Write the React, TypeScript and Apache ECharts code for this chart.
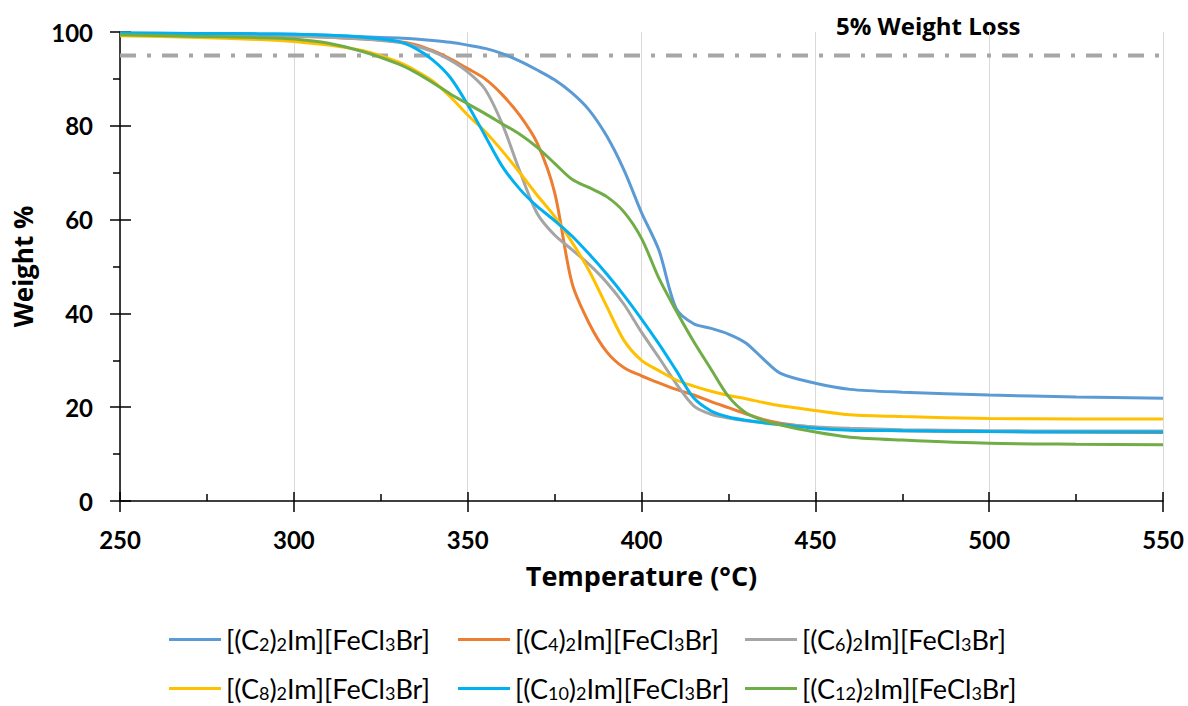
import React, { useEffect, useRef } from 'react';
import * as echarts from 'echarts';

const temperatures = [250, 270, 290, 300, 310, 320, 330, 335, 340, 345, 350, 355, 360, 365, 370, 375, 380, 385, 390, 395, 400, 405, 410, 415, 420, 425, 430, 435, 440, 450, 460, 475, 500, 525, 550];

const weightC2 = [99.8, 99.7, 99.6, 99.5, 99.3, 99.0, 98.7, 98.5, 98.2, 97.8, 97.2, 96.5, 95.4, 93.8, 91.9, 89.8, 87.0, 83.3, 77.8, 70.5, 61.5, 53.5, 41.0, 37.8, 36.8, 35.6, 33.7, 30.3, 27.2, 25.1, 23.8, 23.2, 22.6, 22.2, 21.9];
const weightC4 = [99.5, 99.4, 99.2, 99.1, 98.9, 98.5, 98.0, 97.3, 96.0, 94.3, 92.2, 90.0, 86.6, 82.2, 76.3, 65.8, 46.5, 37.8, 31.8, 28.4, 26.7, 25.2, 23.8, 22.6, 21.2, 19.9, 18.6, 17.4, 16.6, 15.7, 15.3, 15.0, 14.8, 14.7, 14.6];
const weightC6 = [99.5, 99.4, 99.2, 99.1, 98.9, 98.5, 97.8, 97.0, 95.8, 94.0, 91.5, 87.8, 80.3, 70.3, 61.3, 56.7, 53.6, 50.4, 46.6, 41.9, 36.0, 30.6, 25.0, 20.3, 18.5, 17.7, 17.1, 16.7, 16.3, 15.8, 15.5, 15.2, 15.0, 14.9, 14.9];
const weightC8 = [99.2, 98.9, 98.4, 98.0, 97.2, 96.0, 93.6, 91.8, 89.5, 86.2, 82.3, 78.8, 74.6, 70.0, 65.2, 60.7, 55.2, 49.0, 41.5, 34.2, 30.0, 27.8, 25.8, 24.5, 23.4, 22.5, 21.8, 21.0, 20.3, 19.3, 18.4, 18.0, 17.6, 17.5, 17.5];
const weightC10 = [99.8, 99.7, 99.6, 99.5, 99.3, 98.9, 98.0, 96.5, 94.0, 90.3, 84.5, 77.9, 71.3, 66.5, 62.8, 59.8, 56.5, 52.6, 48.4, 43.8, 38.8, 33.5, 27.8, 22.0, 19.2, 17.9, 17.2, 16.7, 16.3, 15.5, 15.1, 15.0, 14.8, 14.7, 14.7];
const weightC12 = [99.4, 99.1, 98.8, 98.5, 97.6, 95.8, 93.2, 91.4, 89.2, 86.8, 84.7, 82.6, 80.4, 78.2, 75.4, 72.0, 68.6, 66.8, 64.9, 61.6, 56.0, 47.5, 40.5, 34.0, 28.1, 22.3, 18.8, 17.2, 16.2, 14.7, 13.6, 13.0, 12.3, 12.1, 12.0];

const seriesNames = [
  '[(C2)2Im][FeCl3Br]',
  '[(C4)2Im][FeCl3Br]',
  '[(C6)2Im][FeCl3Br]',
  '[(C8)2Im][FeCl3Br]',
  '[(C10)2Im][FeCl3Br]',
  '[(C12)2Im][FeCl3Br]',
];
const seriesWeights = [weightC2, weightC4, weightC6, weightC8, weightC10, weightC12];
const seriesColors = ['#5B9BD5', '#ED7D31', '#A5A5A5', '#FFC000', '#00B0F0', '#70AD47'];

const thresholdTemps = [250, 550];
const thresholdWeight = 95;
const thresholdLabel = '5% Weight Loss';

const xTitle = 'Temperature (°C)';
const yTitle = 'Weight %';

const FONT = 'Lato';
const TITLE_FONT = 'Open Sans';

const legendPos = [
  { left: 169, top: 626 },
  { left: 458, top: 626 },
  { left: 745, top: 626 },
  { left: 169, top: 675 },
  { left: 458, top: 675 },
  { left: 745, top: 675 },
];

function richName(name: string): string {
  const parts = name.split(/(\d+)/).filter((p) => p.length > 0);
  return parts.map((p) => (/^\d+$/.test(p) ? `{s|${p}}` : `{n|${p}}`)).join('');
}

export default function App() {
  const ref = useRef<HTMLDivElement>(null);

  useEffect(() => {
    if (!ref.current) return;
    const chart = echarts.init(ref.current, null, { renderer: 'svg' });
    const axisColor = '#000000';
    const tickStyle = { color: axisColor, width: 1.5 };

    const lineSeries = seriesNames.map((name, i) => ({
      name,
      type: 'line',
      data: temperatures.map((t, j) => [t, seriesWeights[i][j]]),
      smooth: 0.3,
      symbol: 'none',
      lineStyle: { color: seriesColors[i], width: 3 },
      itemStyle: { color: seriesColors[i] },
      xAxisIndex: 0,
      yAxisIndex: 0,
    }));

    const option: any = {
      animation: false,
      backgroundColor: '#ffffff',
      grid: { left: 120, top: 32, width: 1043, height: 469, containLabel: false },
      xAxis: [
        {
          type: 'value',
          min: 250,
          max: 550,
          interval: 50,
          position: 'bottom',
          axisLine: { show: true, onZero: false, lineStyle: tickStyle },
          axisTick: { show: true, length: 11, lineStyle: tickStyle },
          splitLine: { show: true, lineStyle: { color: '#D9D9D9', width: 1 } },
          axisLabel: { fontFamily: FONT, fontWeight: 'bold', fontSize: 24, color: '#000', margin: 26 },
          name: xTitle,
          nameLocation: 'middle',
          nameGap: 61,
          nameTextStyle: { fontFamily: TITLE_FONT, fontWeight: 'bold', fontSize: 27, color: '#000' },
        },
        {
          type: 'value',
          min: 250,
          max: 550,
          interval: 50,
          position: 'bottom',
          axisLine: { show: false, onZero: false },
          axisTick: { show: true, inside: true, length: 9, lineStyle: tickStyle },
          minorTick: { show: true, splitNumber: 2, length: 7, lineStyle: tickStyle },
          splitLine: { show: false },
          axisLabel: { show: false },
        },
      ],
      yAxis: [
        {
          type: 'value',
          min: 0,
          max: 100,
          interval: 20,
          position: 'left',
          axisLine: { show: true, onZero: false, lineStyle: tickStyle },
          axisTick: { show: true, length: 10, lineStyle: tickStyle },
          minorTick: { show: true, splitNumber: 2, length: 7, lineStyle: tickStyle },
          splitLine: { show: false },
          axisLabel: { fontFamily: FONT, fontWeight: 'bold', fontSize: 24, color: '#000', margin: 27 },
          name: yTitle,
          nameLocation: 'middle',
          nameGap: 84,
          nameRotate: 90,
          nameTextStyle: { fontFamily: TITLE_FONT, fontWeight: 'bold', fontSize: 26, color: '#000' },
        },
        {
          type: 'value',
          min: 0,
          max: 100,
          interval: 20,
          position: 'left',
          axisLine: { show: false, onZero: false },
          axisTick: { show: true, inside: true, length: 11, lineStyle: tickStyle },
          splitLine: { show: false },
          axisLabel: { show: false },
        },
      ],
      legend: seriesNames.map((name, i) => ({
        data: [name],
        left: legendPos[i].left,
        top: legendPos[i].top,
        padding: 0,
        icon: 'rect',
        itemWidth: 52,
        itemHeight: 3,
        itemGap: 0,
        selectedMode: false,
        formatter: (n: string) => richName(n),
        textStyle: {
          color: '#000',
          rich: {
            n: { fontFamily: FONT, fontSize: 27, color: '#000', lineHeight: 27 },
            s: { fontFamily: FONT, fontSize: 18, color: '#000', lineHeight: 18, verticalAlign: 'bottom' },
          },
        },
      })),
      graphic: [
        {
          type: 'text',
          left: 836,
          top: 13,
          style: { text: thresholdLabel, font: `bold 24px "${TITLE_FONT}"`, fill: '#000' },
        },
      ],
      series: [
        {
          name: 'threshold',
          type: 'line',
          data: thresholdTemps.map((t) => [t, thresholdWeight]),
          symbol: 'none',
          silent: true,
          lineStyle: { color: '#A6A6A6', width: 4, type: [16, 11, 4, 11] },
          xAxisIndex: 0,
          yAxisIndex: 0,
        },
        ...lineSeries,
      ],
    };
    chart.setOption(option);
    return () => chart.dispose();
  }, []);

  return (
    <div
      ref={ref}
      style={{ position: 'absolute', left: 0, top: 0, width: 1188, height: 706, background: '#fff' }}
    />
  );
}
